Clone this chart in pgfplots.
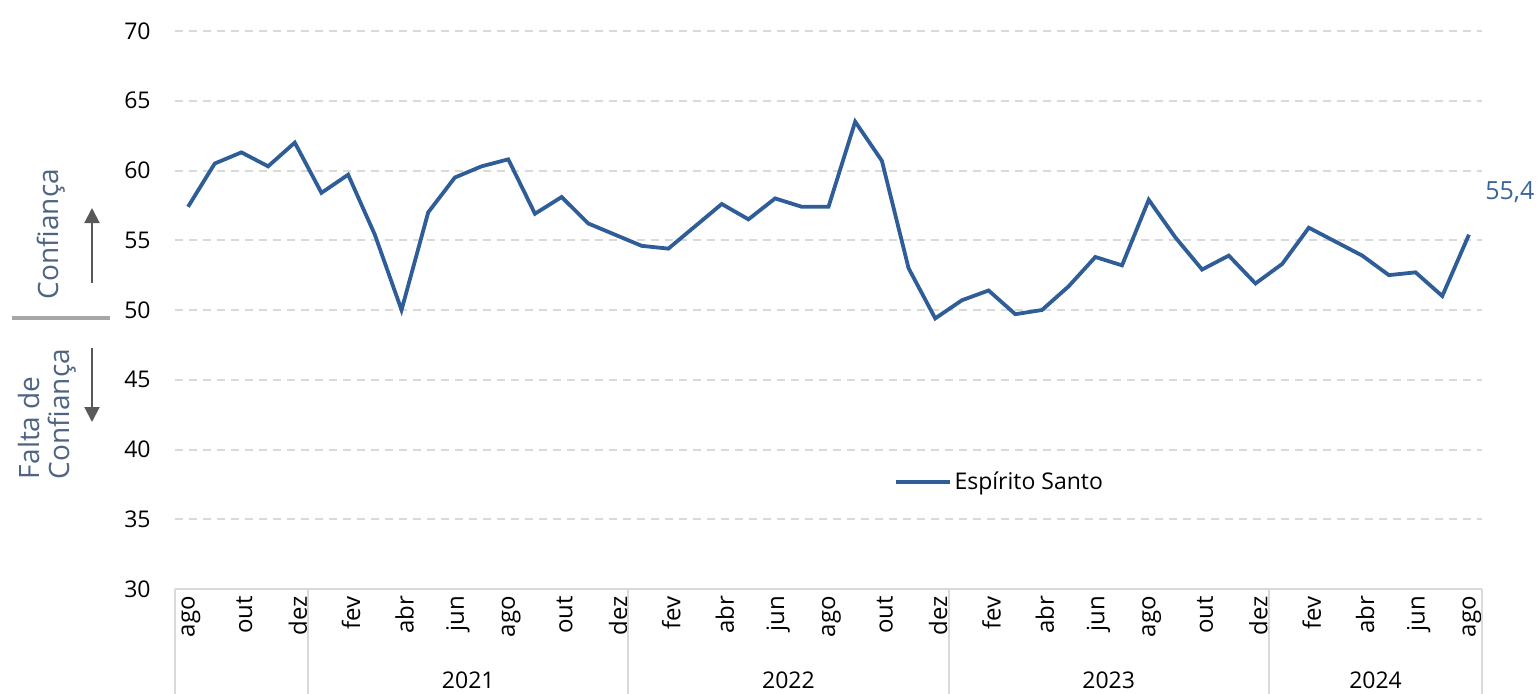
\documentclass[border=0pt]{standalone}
\usepackage{fontspec}
\setmainfont{Open Sans}
\usepackage{pgfplots}
\pgfplotsset{compat=1.18}
\usetikzlibrary{arrows.meta}
\definecolor{serie}{HTML}{2E5D97}
\definecolor{gridc}{HTML}{D9D9D9}
\definecolor{slate}{HTML}{4E6482}
\definecolor{arrowc}{HTML}{595959}
\definecolor{sepc}{HTML}{A6A6A6}
\definecolor{labc}{HTML}{3A6398}
\begin{document}
\begin{tikzpicture}
\useasboundingbox (-87.35pt,-52pt) rectangle (681.15pt,294.5pt);
\begin{axis}[
  at={(0pt,0pt)}, anchor=south west,
  scale only axis, width=653.8pt, height=279pt,
  xmin=-0.5, xmax=48.5, ymin=30, ymax=70,
  ytick={30,35,...,70},
  xtick={0,2,...,48},
  xticklabels={ago,out,dez,fev,abr,jun,ago,out,dez,fev,abr,jun,ago,out,dez,fev,abr,jun,ago,out,dez,fev,abr,jun,ago},
  axis line style={draw=none},
  tick style={draw=none},
  ymajorgrids,
  grid style={gridc, line width=1pt, dash pattern=on 4pt off 3pt},
  clip=false,
  /pgf/number format/assume math mode=true,
  yticklabel style={font=\fontsize{11.5}{13}\selectfont, anchor=east, xshift=-8.5pt},
  xticklabel style={font=\fontsize{12}{14}\selectfont, rotate=90, anchor=east, yshift=-1.5pt},
  legend style={draw=none, fill=none, at={(rel axis cs:0.545,0.192)}, anchor=west,
    font=\fontsize{11.5}{13}\selectfont, nodes={inner sep=1.5pt}},
  legend image code/.code={\draw[#1] (0pt,0pt) -- (27pt,0pt);},
]
\draw[gridc, line width=1pt] (axis cs:-0.5,30) -- (axis cs:48.5,30);
\draw[gridc, line width=1pt] (axis cs:-0.5,30) -- ++(0pt,-53pt);
\draw[gridc, line width=1pt] (axis cs:4.5,30) -- ++(0pt,-53pt);
\draw[gridc, line width=1pt] (axis cs:16.5,30) -- ++(0pt,-53pt);
\draw[gridc, line width=1pt] (axis cs:28.5,30) -- ++(0pt,-53pt);
\draw[gridc, line width=1pt] (axis cs:40.5,30) -- ++(0pt,-53pt);
\draw[gridc, line width=1pt] (axis cs:48.5,30) -- ++(0pt,-53pt);
\addplot[serie, line width=1.9pt] coordinates {
(0,57.4) (1,60.5) (2,61.3) (3,60.3) (4,62.0) (5,58.4) (6,59.7) (7,55.4) (8,50.0)
(9,57.0) (10,59.5) (11,60.3) (12,60.8) (13,56.9) (14,58.1) (15,56.2) (16,55.4)
(17,54.6) (18,54.4) (19,56.0) (20,57.6) (21,56.5) (22,58.0) (23,57.4) (24,57.4)
(25,63.5) (26,60.7) (27,53.0) (28,49.4) (29,50.7) (30,51.4) (31,49.7) (32,50.0)
(33,51.7) (34,53.8) (35,53.2) (36,57.9) (37,55.2) (38,52.9) (39,53.9) (40,51.9)
(41,53.3) (42,55.9) (43,54.9) (44,53.9) (45,52.5) (46,52.7) (47,51.0) (48,55.4)
};
\addlegendentry{Espírito Santo}
\node[labc, anchor=base west, inner sep=0pt, font=\fontsize{12.5}{14}\selectfont] at (axis cs:48,55.4) [xshift=8pt, yshift=17.5pt] {55,4};
\node[font=\fontsize{11.5}{13}\selectfont] at (axis cs:10.5,30) [yshift=-45.5pt] {2021};
\node[font=\fontsize{11.5}{13}\selectfont] at (axis cs:22.5,30) [yshift=-45.5pt] {2022};
\node[font=\fontsize{11.5}{13}\selectfont] at (axis cs:34.5,30) [yshift=-45.5pt] {2023};
\node[font=\fontsize{11.5}{13}\selectfont] at (axis cs:44.5,30) [yshift=-45.5pt] {2024};
\end{axis}
% left annotations
\node[slate, rotate=90, font=\fontsize{14}{16}\selectfont] at (-61.85pt,177.5pt) {Confiança};
\node[slate, rotate=90, align=left, font=\fontsize{14}{15}\selectfont] at (-63.85pt,87.5pt) {Falta de\\Confiança};
\draw[arrowc, line width=1pt, -{Triangle[length=7.5pt,width=7.5pt]}] (-41.35pt,153pt) -- (-41.35pt,190.5pt);
\draw[arrowc, line width=1pt, -{Triangle[length=7.5pt,width=7.5pt]}] (-41.35pt,120.5pt) -- (-41.35pt,83.5pt);
\draw[sepc, line width=2pt] (-81.35pt,135.5pt) -- (-32.35pt,135.5pt);
\end{tikzpicture}
\end{document}
